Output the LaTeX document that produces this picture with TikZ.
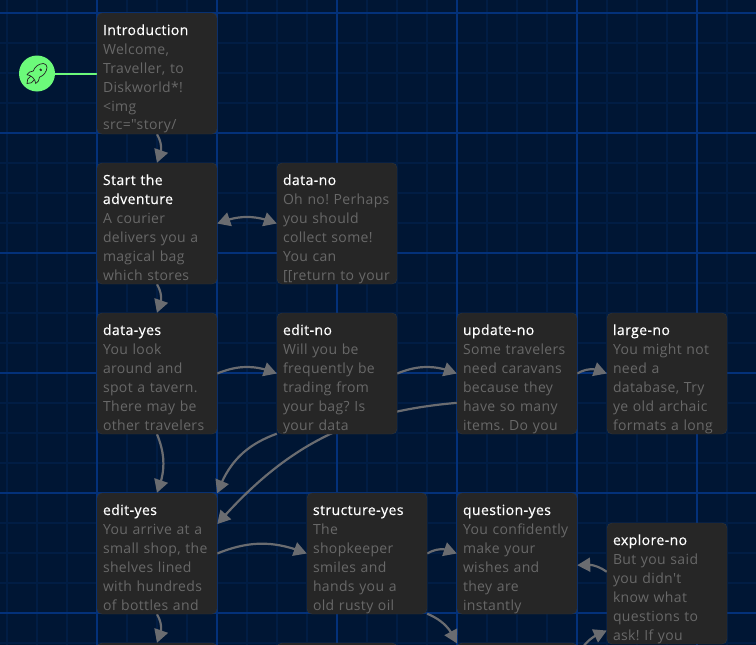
\documentclass[tikz,border=0pt]{standalone}
\usepackage{fontspec}
\setmainfont{Open Sans}[Ligatures=TeXOff,LetterSpace=2.5]
\newfontfamily\cardheadfont{Open Sans}[Ligatures=TeXOff,LetterSpace=3,FakeBold=0.4]
\usetikzlibrary{arrows.meta,backgrounds,bending,svg.path}

\definecolor{canvasbg}{RGB}{0,22,52}
\definecolor{gridminor}{RGB}{1,29,68}
\definecolor{gridmajor}{RGB}{3,49,122}
\definecolor{cardbg}{RGB}{38,38,38}
\definecolor{cardline}{RGB}{50,52,56}
\definecolor{cardtext}{RGB}{104,104,104}
\definecolor{linkgray}{RGB}{106,108,112}
\definecolor{startgreen}{RGB}{108,250,122}

\newcommand{\cardname}[1]{{\cardheadfont\color{white}#1}}

\tikzset{
  card/.style={draw=cardline, fill=cardbg, rounded corners=5pt, text=cardtext,
    minimum width=120pt, minimum height=121pt, text width=108pt, align=left,
    inner xsep=6pt, inner ysep=0pt, font=\fontsize{14}{19}\selectfont\frenchspacing,
    execute at begin node=\rule{0pt}{22pt},
    execute at end node=\rule[-4pt]{0pt}{4pt}},
  link/.style={draw=linkgray, line width=2.2pt, -{Triangle[length=13pt,width=14pt]}},
}

\begin{document}
\begin{tikzpicture}[x=1pt,y=-1pt,bend angle=22]
\useasboundingbox (0,0) rectangle (756,645);

\node[card] (intro) at (157,73.5) {\cardname{Introduction}\\Welcome,\\Traveller, to\\Diskworld*!\\<img\\src="story/};
\node[card] (start) at (157,223.5) {\cardname{Start the}\\\cardname{adventure}\\A courier\\delivers you a\\magical bag\\which stores};
\node[card] (datano) at (337,223.5) {\cardname{data-no}\\Oh no! Perhaps\\you should\\collect some!\\You can\\{[}[return to your};
\node[card] (datayes) at (157,373.5) {\cardname{data-yes}\\You look\\around and\\spot a tavern.\\There may be\\other travelers};
\node[card] (editno) at (337,373.5) {\cardname{edit-no}\\Will you be\\frequently be\\trading from\\your bag? Is\\your data};
\node[card] (updateno) at (517,373.5) {\cardname{update-no}\\Some travelers\\need caravans\\because they\\have so many\\items. Do you};
\node[card] (largeno) at (667,373.5) {\cardname{large-no}\\You might not\\need a\\database, Try\\ye old archaic\\formats a long};
\node[card] (edityes) at (157,553.5) {\cardname{edit-yes}\\You arrive at a\\small shop, the\\shelves lined\\with hundreds\\of bottles and};
\node[card] (structureyes) at (367,553.5) {\cardname{structure-yes}\\The\\shopkeeper\\smiles and\\hands you a\\old rusty oil};
\node[card] (questionyes) at (517,553.5) {\cardname{question-yes}\\You confidently\\make your\\wishes and\\they are\\instantly};
\node[card] (exploreno) at (667,583.5) {\cardname{explore-no}\\But you said\\you didn't\\know what\\questions to\\ask! If you};
% cards that the frame cuts off
\node[card] (lowleft) at (157,703.5) {};
\node[card] (lowmid) at (337,703.5) {};
\node[card] (lowright) at (517,703.5) {};

\node[circle, fill=startgreen, minimum size=36pt, inner sep=0pt] (rocket) at (37,73.5) {};
\begin{scope}[shift={(22,58.5)}, yscale=-1, scale=1.25, draw=cardbg, line width=0.7pt]
\draw svg "M4 13a8 8 0 0 1 7 7a6 6 0 0 0 3 -5a9 9 0 0 0 6 -8a3 3 0 0 0 -3 -3a9 9 0 0 0 -8 6a6 6 0 0 0 -5 3";
\draw svg "M7 14a6 6 0 0 0 -3 6a6 6 0 0 0 6 -3";
\fill[cardbg] svg "M14 9a1 1 0 1 0 2 0a1 1 0 1 0 -2 0";
\end{scope}

\begin{scope}[on background layer]
\fill[canvasbg] (0,0) rectangle (756,645);
\foreach \x in {7,37,...,757}{
  \draw[gridminor, line width=1.5pt] (\x,0)--(\x,645);
}
\foreach \y in {13,43,...,643}{
  \draw[gridminor, line width=1.5pt] (0,\y)--(756,\y);
}
\foreach \x in {97,217,...,697}{
  \draw[gridmajor, line width=1.5pt] (\x,0)--(\x,645);
}
\foreach \y in {13,133,...,613}{
  \draw[gridmajor, line width=1.5pt] (0,\y)--(756,\y);
}
\draw[startgreen, line width=2pt] (rocket.east)--(intro.west);
\draw[link] (intro.south) to[bend left=30] (start.north);
\draw[link] (start.south) to[bend left=30] (datayes.north);
\draw[link,{Triangle[length=13pt,width=14pt]}-{Triangle[length=13pt,width=14pt]}] (start.east) to[bend left] (datano.west);
\draw[link] (datayes.east) to[bend left] (editno.west);
\draw[link] (editno.east) to[bend left] (updateno.west);
\draw[link] (updateno.east) to[bend left=30] (largeno.west);
\draw[link] (datayes.south) to[bend left] (edityes.north);
\draw[link] (editno.225) to[bend right=25] (edityes.45);
\draw[link] (updateno.206.57) to[bend right] (edityes.26.57);
\draw[link] (edityes.east) to[bend left] (structureyes.west);
\draw[link] (edityes.south) to[bend left=30] (lowleft.north);
\draw[link] (structureyes.east) to[bend left=30] (questionyes.west);
\draw[link] (structureyes.315) to[bend left] (lowright.135);
\draw[link] (exploreno.169) to[bend right] (questionyes.349);
\draw[link] (lowright.38.66) to[bend left] (exploreno.218.66);
\end{scope}
\end{tikzpicture}
\end{document}
